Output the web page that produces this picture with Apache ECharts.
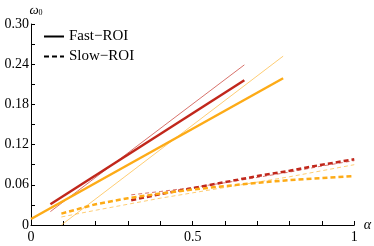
<!DOCTYPE html>
<html>
<head>
<meta charset="utf-8">
<script src="https://cdn.jsdelivr.net/npm/echarts@6/dist/echarts.min.js"></script>
<style>
  html, body { margin: 0; padding: 0; background: #fff; }
  #chart { width: 374px; height: 246px; }
</style>
</head>
<body>
<div id="chart"></div>
<script>
// Fast-ROI (solid) lines: [alpha, omega0]
const fastThickRed = [[0.06, 0.031], [0.66, 0.216]];
const fastThinRed = [[0.06, 0.020], [0.66, 0.239]];
const fastThickOrange = [[0.0, 0.009], [0.78, 0.219]];
const fastThinOrange = [[0.094, 0.0], [0.78, 0.252]];

// Slow-ROI (dashed) lines
const slowRedAlpha = [0.31, 0.4, 0.5, 0.6, 0.7, 0.8, 0.9, 1.0];
const slowThickRedY = [0.037, 0.046, 0.055, 0.064, 0.073, 0.081, 0.090, 0.098];
const slowThinRedY = [0.045, 0.050, 0.056, 0.063, 0.071, 0.079, 0.088, 0.096];
const slowOrangeAlpha = [0.094, 0.2, 0.3, 0.4, 0.5, 0.6, 0.7, 0.8, 0.9, 1.0];
const slowThickOrangeY = [0.017, 0.031, 0.040, 0.047, 0.053, 0.058, 0.063, 0.067, 0.070, 0.073];
const slowThinOrangeY = [0.012, 0.022, 0.031, 0.040, 0.048, 0.056, 0.064, 0.072, 0.081, 0.090];

const xLabels = [0, 0.5, 1];
const yLabels = [0, 0.06, 0.12, 0.18, 0.24, 0.30];

const red = '#c1271b';
const orange = '#fdab17';
const font = 'Liberation Serif';

function zip(xs, ys) {
    return xs.map((x, i) => [x, ys[i]]);
}

function line(data, color, width, dashed, opacity) {
    return {
        type: 'line',
        data: data,
        symbol: 'none',
        silent: true,
        z: width > 2 ? 3 : 2,
        lineStyle: {
            color: color,
            width: width,
            opacity: opacity,
            type: dashed ? (width > 2 ? [5, 3] : [4, 3]) : 'solid'
        }
    };
}

const chart = echarts.init(document.getElementById('chart'));

chart.setOption({
    animation: false,
    textStyle: { fontFamily: font },
    grid: { left: 31, right: 17, top: 24, bottom: 21 },
    legend: {
        left: 38,
        top: 24,
        orient: 'vertical',
        itemWidth: 20,
        itemHeight: 10,
        itemGap: 5,
        itemStyle: { opacity: 0 },
        textStyle: { fontFamily: font, fontSize: 15, color: '#000' },
        data: ['Fast\u2212ROI', 'Slow\u2212ROI']
    },
    xAxis: {
        type: 'value',
        min: 0,
        max: 1,
        interval: 0.1,
        name: '\u03b1',
        nameGap: 6,
        nameTextStyle: { fontFamily: font, fontSize: 14, fontStyle: 'italic', color: '#000', verticalAlign: 'middle' },
        axisLine: { lineStyle: { color: '#000', width: 1 } },
        axisTick: { inside: true, length: 4, lineStyle: { color: '#000' } },
        splitLine: { show: false },
        axisLabel: {
            fontFamily: font,
            fontSize: 14,
            color: '#000',
            margin: 5,
            formatter: v => {
                const hit = xLabels.find(l => Math.abs(l - v) < 1e-6);
                return hit === undefined ? '' : String(hit);
            }
        }
    },
    yAxis: {
        type: 'value',
        min: 0,
        max: 0.30,
        interval: 0.03,
        name: '{w|\u03c9}{s|0}',
        nameGap: 6,
        nameTextStyle: {
            color: '#000',
            rich: {
                w: { fontFamily: font, fontSize: 13, fontStyle: 'italic', padding: [0, 0, 0, 10] },
                s: { fontFamily: font, fontSize: 8, verticalAlign: 'bottom', padding: [4, 0, 0, 0] }
            }
        },
        axisLine: { show: true, lineStyle: { color: '#000', width: 1 } },
        axisTick: { inside: true, length: 4, lineStyle: { color: '#000' } },
        splitLine: { show: false },
        axisLabel: {
            fontFamily: font,
            fontSize: 14,
            color: '#000',
            margin: 2,
            formatter: v => {
                const hit = yLabels.find(l => Math.abs(l - v) < 1e-6);
                if (hit === undefined) return '';
                return hit === 0 ? '0' : hit.toFixed(2);
            }
        }
    },
    series: [
        // legend entries
        { name: 'Fast\u2212ROI', type: 'line', data: [], symbol: 'none', itemStyle: { color: '#000' }, lineStyle: { color: '#000', width: 2 } },
        { name: 'Slow\u2212ROI', type: 'line', data: [], symbol: 'none', itemStyle: { color: '#000' }, lineStyle: { color: '#000', width: 2, type: [5, 3] } },
        line(fastThinRed, red, 1, false, 0.65),
        line(fastThinOrange, orange, 1, false, 0.6),
        line(fastThickRed, red, 2.5, false, 1),
        line(fastThickOrange, orange, 2.5, false, 1),
        line(zip(slowRedAlpha, slowThinRedY), red, 1, true, 0.65),
        line(zip(slowOrangeAlpha, slowThinOrangeY), orange, 1, true, 0.6),
        line(zip(slowRedAlpha, slowThickRedY), red, 2.5, true, 1),
        line(zip(slowOrangeAlpha, slowThickOrangeY), orange, 2.5, true, 1)
    ]
});
</script>
</body>
</html>
